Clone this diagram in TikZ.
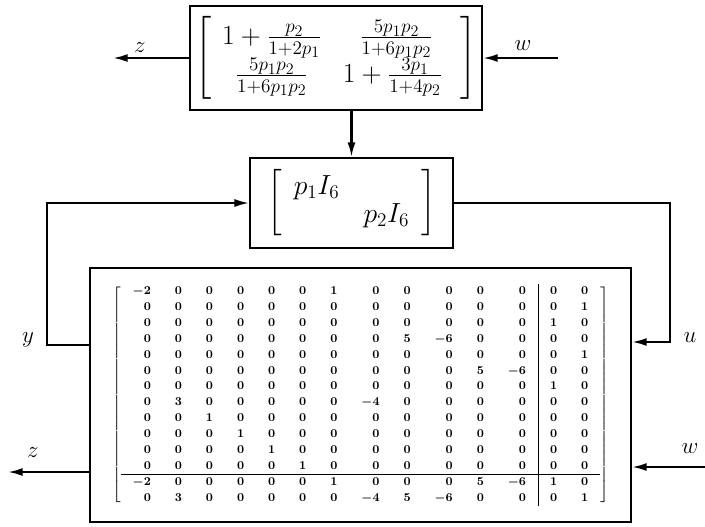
\documentclass[tikz,border=0pt]{standalone}
\usepackage{amsmath}
\usetikzlibrary{arrows.meta, calc}

\begin{document}
\begin{tikzpicture}[x=0.75pt, y=-0.75pt,
  >={Latex[length=11pt, width=6pt]},
  blk/.style={draw, line width=1.6pt, inner sep=0pt},
  sig/.style={line width=1.6pt},
  lbl/.style={font=\LARGE},
]

\useasboundingbox (0,0) rectangle (705,526);

% === Top block: gain from w to z ===
\node[blk, minimum width=219pt, minimum height=78pt, font=\huge] (gain) at (336,58)
  {\setlength{\arraycolsep}{8pt}$\Biggl[\begin{array}{cc}
    1+\frac{p_2}{1+2p_1} & \frac{5p_1p_2}{1+6p_1p_2}\\
    \frac{5p_1p_2}{1+6p_1p_2} & 1+\frac{3p_1}{1+4p_2}\;
  \end{array}\Biggr]$};

\coordinate (zout) at (113,58);
\coordinate (win) at (558,58);
\draw[->, sig] (gain.west) -- (zout);
\draw[->, sig] (win) -- (gain.east);
\node[lbl] (zlab) at (140,48) {$z$};
\node[lbl] (wlab) at (523,46) {$w$};

% === Middle block: uncertainty ===
\node[blk, minimum width=152pt, minimum height=67.5pt, font=\huge] (unc) at (351.5,203)
  {\setlength{\arraycolsep}{9pt}\renewcommand{\arraystretch}{0.85}$\biggl[\begin{array}{cc}
    p_1I_6 & \\
    & p_2I_6
  \end{array}\biggr]$};

\draw[->, sig] (unc.north |- gain.south) -- (unc.north);

% === Bottom block: plant ===
\node[blk, minimum width=405.75pt, minimum height=190.5pt, font=\small] (plant) at (360.5,395)
  {{\setlength{\arraycolsep}{9pt}\renewcommand{\arraystretch}{1.08}\boldmath
  $\left[\begin{array}{rrrrrrrrrrrr|rr}
   -2 & 0 & 0 & 0 & 0 & 0 & 1 & 0 & 0 & 0 & 0 & 0 & 0 & 0\\
    0 & 0 & 0 & 0 & 0 & 0 & 0 & 0 & 0 & 0 & 0 & 0 & 0 & 1\\
    0 & 0 & 0 & 0 & 0 & 0 & 0 & 0 & 0 & 0 & 0 & 0 & 1 & 0\\
    0 & 0 & 0 & 0 & 0 & 0 & 0 & 0 & 5 & -6 & 0 & 0 & 0 & 0\\
    0 & 0 & 0 & 0 & 0 & 0 & 0 & 0 & 0 & 0 & 0 & 0 & 0 & 1\\
    0 & 0 & 0 & 0 & 0 & 0 & 0 & 0 & 0 & 0 & 5 & -6 & 0 & 0\\
    0 & 0 & 0 & 0 & 0 & 0 & 0 & 0 & 0 & 0 & 0 & 0 & 1 & 0\\
    0 & 3 & 0 & 0 & 0 & 0 & 0 & -4 & 0 & 0 & 0 & 0 & 0 & 0\\
    0 & 0 & 1 & 0 & 0 & 0 & 0 & 0 & 0 & 0 & 0 & 0 & 0 & 0\\
    0 & 0 & 0 & 1 & 0 & 0 & 0 & 0 & 0 & 0 & 0 & 0 & 0 & 0\\
    0 & 0 & 0 & 0 & 1 & 0 & 0 & 0 & 0 & 0 & 0 & 0 & 0 & 0\\
    0 & 0 & 0 & 0 & 0 & 1 & 0 & 0 & 0 & 0 & 0 & 0 & 0 & 0\\ \hline
   -2 & 0 & 0 & 0 & 0 & 0 & 1 & 0 & 0 & 0 & 5 & -6 & 1 & 0\\
    0 & 3 & 0 & 0 & 0 & 0 & 0 & -4 & 5 & -6 & 0 & 0 & 0 & 1
  \end{array}\right]$}};

% === Feedback loop ===
\coordinate (yl) at (47,345);
\coordinate (ur) at (670,342);
\draw[->, sig] (yl -| plant.west) -- (yl) |- (unc.west);
\draw[->, sig] (unc.east) -| (ur) -- (ur -| plant.east);
\node[lbl] (ylab) at (28,340) {$y$};
\node[lbl] (ulab) at (690,338) {$u$};

% === Bottom external signals ===
\coordinate (zl) at (8,472);
\coordinate (wr) at (705,467);
\draw[->, sig] (zl -| plant.west) -- (zl);
\draw[->, sig] (wr) -- (wr -| plant.east);
\node[lbl] (zlab2) at (33,453) {$z$};
\node[lbl] (wlab2) at (690,449) {$w$};

\end{tikzpicture}
\end{document}
